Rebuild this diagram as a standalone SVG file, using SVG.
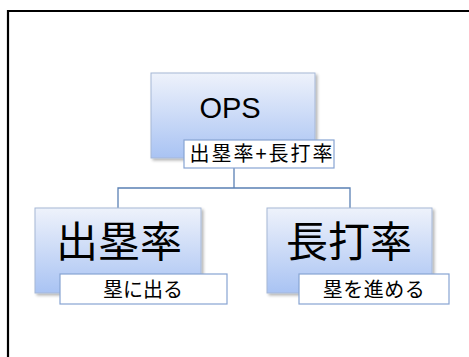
<svg xmlns="http://www.w3.org/2000/svg" width="469" height="357" viewBox="0 0 469 357">
<defs>
<linearGradient id="g" x1="0" y1="0" x2="0" y2="1">
<stop offset="0" stop-color="#eef2fb"/>
<stop offset="1" stop-color="#a9c3f3"/>
</linearGradient>
<filter id="sh" x="-10%" y="-10%" width="125%" height="130%">
<feGaussianBlur in="SourceAlpha" stdDeviation="1.5"/>
<feOffset dx="1.5" dy="2" result="b"/>
<feComponentTransfer><feFuncA type="linear" slope="0.3"/></feComponentTransfer>
<feMerge><feMergeNode/><feMergeNode in="SourceGraphic"/></feMerge>
</filter>
</defs>
<style>
.box{fill:url(#g);stroke:#a6b7d6;stroke-width:1;filter:url(#sh)}
.lab{fill:#ffffff;stroke:#87a4d2;stroke-width:1.2}
.big{font-family:"Liberation Sans","Noto Sans CJK JP",sans-serif;fill:#000;text-anchor:middle}
.sm{font-family:"Noto Sans CJK JP",sans-serif;fill:#000;text-anchor:middle;font-size:20px}
.con{fill:none;stroke:#5a80b4;stroke-width:1.3}
</style>
<rect x="0" y="0" width="469" height="357" fill="#fff"/>
<path d="M8 357 V11 H469" fill="none" stroke="#000" stroke-width="2.2"/>
<g id="connectors">
<path class="con" d="M234 168 V188 M118 208 V188 H350 V208"/>
</g>
<g id="ops">
<rect class="box" x="151" y="73" width="164" height="85"/>
<text class="big" x="230" y="118" font-size="29">OPS</text>
<rect class="lab" x="184" y="140" width="150" height="28"/>
<text class="sm" x="262" y="161" font-size="19" letter-spacing="2">出塁率+長打率</text>
</g>
<g id="obp">
<rect class="box" x="35" y="208" width="166" height="85"/>
<text class="big" x="119" y="257" font-size="42">出塁率</text>
<rect class="lab" x="60" y="274" width="167" height="30"/>
<text class="sm" x="143" y="297">塁に出る</text>
</g>
<g id="slg">
<rect class="box" x="267" y="208" width="165" height="85"/>
<text class="big" x="349" y="257" font-size="42">長打率</text>
<rect class="lab" x="299" y="274" width="150" height="30"/>
<text class="sm" x="374" y="297" letter-spacing="0.5">塁を進める</text>
</g>
</svg>
